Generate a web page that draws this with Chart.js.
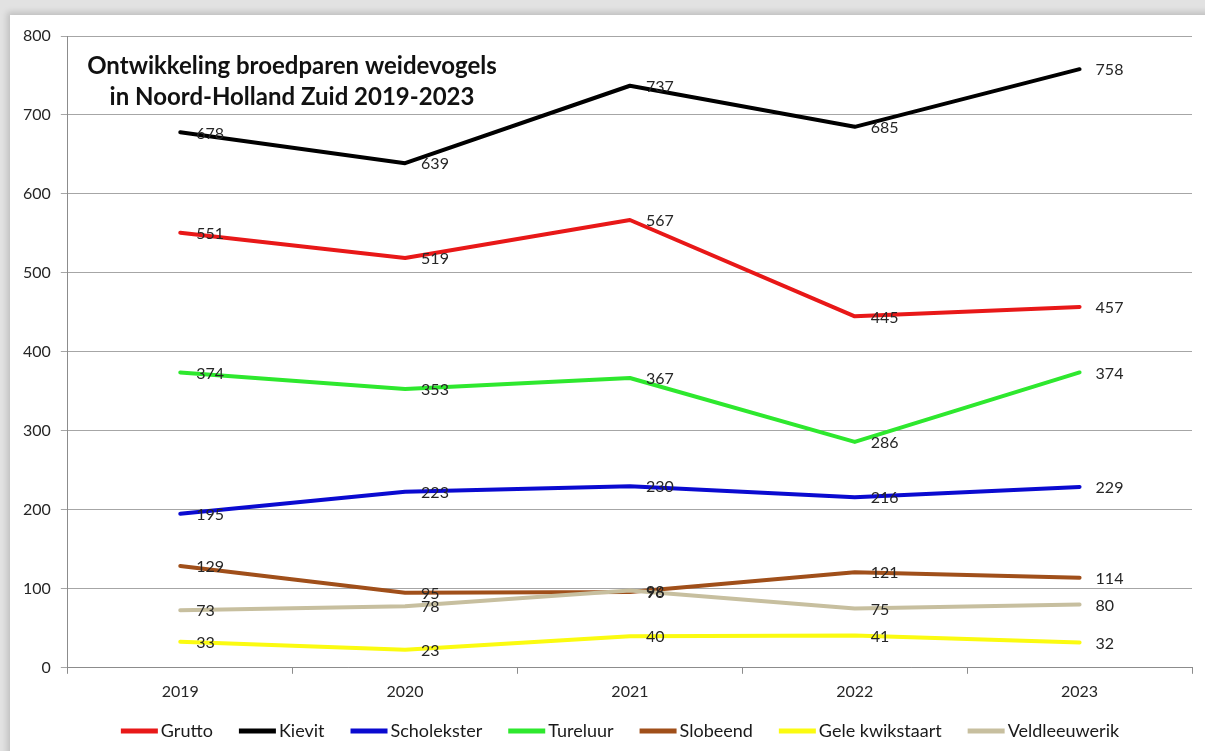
<!DOCTYPE html>
<html lang="nl">
<head>
<meta charset="utf-8">
<title>Ontwikkeling broedparen weidevogels</title>
<script src="https://cdn.jsdelivr.net/npm/chart.js@4/dist/chart.umd.min.js"></script>
<style>
  html, body { margin: 0; padding: 0; background: #ffffff; }
  #wrap { position: relative; width: 1205px; height: 751px; overflow: hidden; background: #e2e2e2; }
  #paper { position: absolute; left: 10px; top: 15px; width: 1220px; height: 760px; background: #ffffff;
           box-shadow: -1px -1px 6px 2px rgba(0,0,0,0.15); }
  #chart { position: absolute; left: 0; top: 0; }
</style>
</head>
<body>
<div id="wrap">
  <div id="paper"></div>
  <canvas id="chart" width="1205" height="751"></canvas>
</div>
<script>
// Years on the horizontal axis
const years = ['2019', '2020', '2021', '2022', '2023'];

// Breeding pairs per species
const grutto        = [551, 519, 567, 445, 457];
const kievit        = [678, 639, 737, 685, 758];
const scholekster   = [195, 223, 230, 216, 229];
const tureluur      = [374, 353, 367, 286, 374];
const slobeend      = [129,  95,  96, 121, 114];
const geleKwikstaart = [33,  23,  40,  41,  32];
const veldleeuwerik = [ 73,  78,  98,  75,  80];

// Vertical axis range and step
const yTicks = [0, 100, 200, 300, 400, 500, 600, 700, 800];

const titleLines = ['Ontwikkeling broedparen weidevogels', 'in Noord-Holland Zuid 2019-2023'];

const FONT = 'Lato, "Liberation Sans", sans-serif';

const series = [
  { label: 'Grutto',          data: grutto,         color: '#e81818' },
  { label: 'Kievit',          data: kievit,         color: '#000000' },
  { label: 'Scholekster',     data: scholekster,    color: '#0a0ad0' },
  { label: 'Tureluur',        data: tureluur,       color: '#2ee82e' },
  { label: 'Slobeend',        data: slobeend,       color: '#a04f1a' },
  { label: 'Gele kwikstaart', data: geleKwikstaart, color: '#fbfb10' },
  { label: 'Veldleeuwerik',   data: veldleeuwerik,  color: '#c7bf9f' }
];

// Value labels to the right of every point
const valueLabels = {
  id: 'valueLabels',
  afterDatasetsDraw(chart) {
    const ctx = chart.ctx;
    ctx.save();
    ctx.font = '16px ' + FONT;
    ctx.fillStyle = '#262626';
    ctx.textAlign = 'left';
    ctx.textBaseline = 'middle';
    chart.data.datasets.forEach((ds, i) => {
      const meta = chart.getDatasetMeta(i);
      meta.data.forEach((pt, j) => {
        ctx.fillText(String(ds.data[j]), pt.x + 16, pt.y + 1);
      });
    });
    ctx.restore();
  }
};

// Two-line title placed inside the plot area
const innerTitle = {
  id: 'innerTitle',
  afterDraw(chart) {
    const ctx = chart.ctx;
    ctx.save();
    ctx.font = 'bold 24px ' + FONT;
    ctx.fillStyle = '#111111';
    ctx.textAlign = 'center';
    ctx.textBaseline = 'middle';
    ctx.fillText(titleLines[0], 292, 66);
    ctx.fillText(titleLines[1], 292, 97);
    ctx.restore();
  }
};

// Legend row along the bottom: line swatch followed by the name
const bottomLegend = {
  id: 'bottomLegend',
  afterDraw(chart) {
    const ctx = chart.ctx;
    ctx.save();
    ctx.font = '18px ' + FONT;
    const swatch = 37, gapText = 3, gapItem = 26, y = 731;
    const items = chart.data.datasets.map(ds => ({ text: ds.label, color: ds.borderColor, w: ctx.measureText(ds.label).width }));
    const total = items.reduce((s, it) => s + swatch + gapText + it.w, 0) + gapItem * (items.length - 1);
    let x = 620 - total / 2;
    items.forEach(it => {
      ctx.strokeStyle = it.color;
      ctx.lineWidth = 5;
      ctx.lineCap = 'butt';
      ctx.beginPath();
      ctx.moveTo(x, y);
      ctx.lineTo(x + swatch, y);
      ctx.stroke();
      ctx.fillStyle = '#1a1a1a';
      ctx.textAlign = 'left';
      ctx.textBaseline = 'middle';
      ctx.fillText(it.text, x + swatch + gapText, y);
      x += swatch + gapText + it.w + gapItem;
    });
    ctx.restore();
  }
};

new Chart(document.getElementById('chart'), {
  type: 'line',
  data: {
    labels: years,
    datasets: series.map((s, i) => ({
      label: s.label,
      data: s.data,
      borderColor: s.color,
      backgroundColor: s.color,
      borderWidth: 4,
      pointRadius: 0,
      tension: 0,
      borderCapStyle: 'round',
      borderJoinStyle: 'round',
      order: series.length - i
    }))
  },
  options: {
    responsive: false,
    animation: false,
    layout: { padding: { top: 36, right: 13, bottom: 42, left: 13 } },
    plugins: {
      legend: { display: false },
      title: { display: false },
      tooltip: { enabled: false }
    },
    scales: {
      x: {
        offset: true,
        grid: { offset: true, drawOnChartArea: false, drawTicks: true, tickLength: 6, color: '#8c8c8c' },
        border: { color: '#8c8c8c', width: 1 },
        ticks: { font: { family: FONT, size: 16 }, color: '#262626', padding: 8 }
      },
      y: {
        min: yTicks[0],
        max: yTicks[yTicks.length - 1],
        afterBuildTicks(axis) { axis.ticks = yTicks.map(v => ({ value: v })); },
        grid: { color: '#a6a6a6', lineWidth: 1, drawTicks: true, tickLength: 7 },
        border: { color: '#8c8c8c', width: 1 },
        ticks: { font: { family: FONT, size: 16 }, color: '#262626', padding: 10 }
      }
    }
  },
  plugins: [valueLabels, innerTitle, bottomLegend]
});
</script>
</body>
</html>
